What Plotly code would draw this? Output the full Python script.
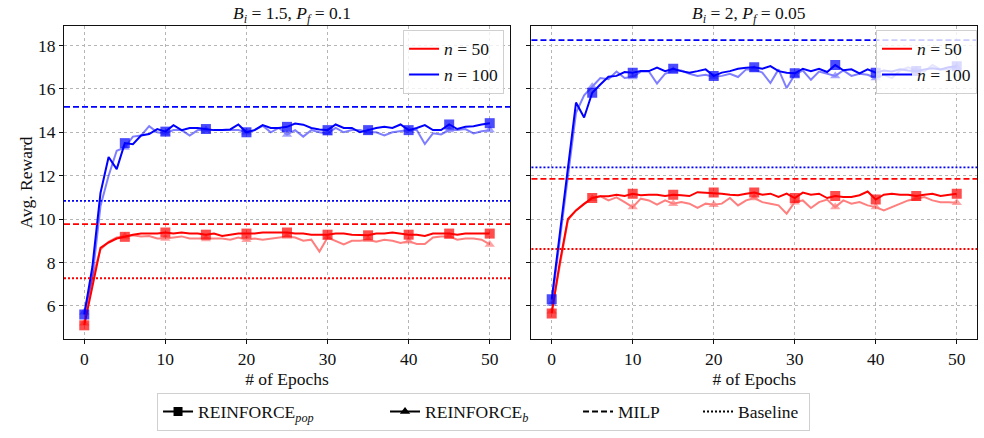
import plotly.graph_objects as go
from plotly.subplots import make_subplots

epochs = list(range(51))

# ---- Left panel: B_i = 1.5, P_f = 0.1 ----
L_pop_50 = [5.1, 6.9, 8.67, 8.92, 9.1, 9.18, 9.28, 9.33, 9.33, 9.33,
            9.38, 9.33, 9.38, 9.33, 9.33, 9.28, 9.33, 9.22, 9.28, 9.33,
            9.33, 9.33, 9.38, 9.38, 9.38, 9.38, 9.33, 9.33, 9.28, 9.28,
            9.28, 9.33, 9.33, 9.28, 9.25, 9.25, 9.33, 9.33, 9.38, 9.33,
            9.28, 9.28, 9.22, 9.33, 9.33, 9.33, 9.28, 9.33, 9.33, 9.33,
            9.33]
L_b_50 = [5.2, 7.3, 8.6, 8.95, 9.15, 9.2, 9.25, 9.2, 9.22, 9.1,
          9.1, 9.15, 9.2, 9.1, 9.1, 9.08, 9.1, 9.1, 9.05, 9.15,
          9.05, 9.1, 9.05, 9.1, 9.15, 9.2, 9.15, 9.0, 9.05, 8.5,
          9.15, 9.0, 8.83, 9.0, 9.0, 9.05, 8.95, 9.05, 9.0, 8.9,
          8.98, 8.85, 8.85, 9.15, 9.2, 9.2, 9.05, 9.1, 9.1, 9.05,
          8.83]
L_pop_100 = [5.6, 7.8, 11.2, 12.86, 12.3, 13.5, 13.45, 13.85, 13.92, 14.15,
             14.03, 14.33, 14.1, 14.2, 14.2, 14.15, 14.1, 14.1, 14.13, 14.36,
             14.0, 14.1, 14.33, 14.2, 14.2, 14.25, 14.4, 14.35, 14.2, 14.13,
             14.1, 14.36, 14.2, 14.2, 14.0, 14.1, 14.2, 14.25, 14.2, 14.36,
             14.1, 14.2, 14.33, 14.1, 14.1, 14.36, 14.15, 14.25, 14.28, 14.36,
             14.42]
L_b_100 = [5.7, 7.3, 10.6, 12.0, 13.15, 13.3, 13.8, 13.85, 14.28, 14.0,
           13.95, 14.1, 14.1, 13.85, 14.1, 14.1, 14.1, 14.1, 14.1, 14.1,
           14.0, 14.1, 14.3, 14.0, 14.2, 13.9, 14.1, 13.8, 14.1, 14.0,
           13.95, 14.2, 14.0, 14.1, 14.1, 14.0, 14.0, 13.85, 14.0, 14.05,
           14.1, 14.1, 13.46, 13.95, 13.9, 14.1, 14.1, 14.15, 13.95, 14.05,
           14.1]

# ---- Right panel: B_i = 2, P_f = 0.05 ----
R_pop_50 = [5.65, 8.0, 10.0, 10.4, 10.7, 10.97, 11.05, 11.05, 11.12, 11.06,
            11.17, 11.1, 11.12, 11.12, 11.06, 11.12, 11.1, 11.06, 11.24, 11.22,
            11.22, 11.17, 11.12, 11.1, 11.17, 11.22, 11.12, 11.17, 11.02, 11.17,
            10.97, 11.22, 11.12, 11.17, 10.97, 11.06, 11.02, 11.02, 11.1, 11.27,
            10.9, 11.12, 11.17, 11.12, 11.12, 11.06, 11.12, 11.17, 11.06, 11.12,
            11.17]
R_b_50 = [5.75, 7.9, 9.95, 10.4, 10.7, 10.94, 11.06, 10.86, 11.0, 10.78,
          10.55, 10.94, 10.86, 10.66, 10.86, 10.71, 10.78, 10.71, 10.51, 10.71,
          10.66, 10.71, 10.97, 10.63, 10.86, 10.97, 10.78, 10.71, 10.63, 10.25,
          10.78, 10.86, 10.51, 10.78, 10.9, 10.55, 10.86, 10.71, 10.78, 10.63,
          10.55, 10.4, 10.55, 10.71, 10.86, 10.94, 11.01, 10.86, 10.78, 10.78,
          10.75]
R_pop_100 = [6.3, 9.3, 12.3, 15.37, 14.68, 15.82, 16.2, 16.56, 16.6, 16.78,
             16.75, 16.82, 16.82, 16.98, 16.82, 16.93, 16.82, 16.75, 16.82, 16.9,
             16.6, 16.75, 16.82, 16.93, 16.98, 17.0, 16.93, 17.05, 16.82, 16.75,
             16.72, 16.93, 16.82, 16.93, 16.78, 17.1, 16.86, 16.9, 16.72, 16.9,
             16.75, 16.85, 16.8, 16.9, 16.85, 16.82, 16.9, 16.95, 16.9, 17.0,
             17.05]
R_b_100 = [6.1, 9.0, 11.8, 14.9, 15.7, 16.1, 16.5, 16.45, 16.8, 16.5,
           16.55, 16.8, 16.8, 16.25, 16.7, 16.85, 16.85, 16.7, 16.6, 16.65,
           16.55, 16.6, 16.7, 16.55, 16.9, 16.9, 16.75, 16.27, 16.9, 16.04,
           16.65, 16.85, 16.42, 16.8, 16.7, 16.6, 16.85, 16.6, 16.7, 16.65,
           16.5, 16.65, 16.5, 16.85, 17.0, 16.85, 16.8, 17.1, 16.9, 16.9,
           17.0]

MILP_L = [9.77, 15.17]     # n=50, n=100
BASE_L = [7.27, 10.84]
MILP_R = [11.85, 18.25]
BASE_R = [8.62, 12.38]

titles = ["<i>B</i><sub><i>i</i></sub> = 1.5, <i>P</i><sub><i>f</i></sub> = 0.1",
          "<i>B</i><sub><i>i</i></sub> = 2, <i>P</i><sub><i>f</i></sub> = 0.05"]

RED = "#ff0000"
BLUE = "#0000ff"
FONT = "Liberation Serif, Times New Roman, Times, serif"
FS = 17.5

fig = make_subplots(rows=1, cols=2, shared_yaxes=True, horizontal_spacing=0.0,
                    subplot_titles=titles)

sq_sizes = [10 if e % 5 == 0 else 0 for e in epochs]
tri_sizes = [9 if e % 5 == 0 else 0 for e in epochs]

panels = [
    (1, L_pop_50, L_b_50, L_pop_100, L_b_100, MILP_L, BASE_L),
    (2, R_pop_50, R_b_50, R_pop_100, R_b_100, MILP_R, BASE_R),
]

for col, p50, b50, p100, b100, milp, base in panels:
    for color, pop, bb in [(RED, p50, b50), (BLUE, p100, b100)]:
        fig.add_trace(go.Scatter(x=epochs, y=bb, mode="lines+markers", opacity=0.5,
                                 line=dict(color=color, width=2),
                                 marker=dict(symbol="triangle-up", size=tri_sizes, color=color,
                                             line=dict(width=0)),
                                 showlegend=False, hoverinfo="skip"), row=1, col=col)
    for color, pop, bb in [(RED, p50, b50), (BLUE, p100, b100)]:
        fig.add_trace(go.Scatter(x=epochs, y=pop, mode="lines+markers",
                                 line=dict(color=color, width=2),
                                 marker=dict(symbol="square", size=sq_sizes, color=color,
                                             line=dict(width=0)),
                                 showlegend=False, hoverinfo="skip"), row=1, col=col)
    for color, m, b in [(RED, milp[0], base[0]), (BLUE, milp[1], base[1])]:
        fig.add_hline(y=m, line=dict(color=color, width=1.8, dash="6px,3px"), row=1, col=col)
        fig.add_hline(y=b, line=dict(color=color, width=1.8, dash="2px,2px"), row=1, col=col)
    # panel legends (n = 50 / n = 100)
    lg = "legend" if col == 1 else "legend2"
    for color, name in [(RED, "<i>n</i> = 50"), (BLUE, "<i>n</i> = 100")]:
        fig.add_trace(go.Scatter(x=[None], y=[None], mode="lines", name=name,
                                 line=dict(color=color, width=2), legend=lg,
                                 showlegend=True), row=1, col=col)

# bottom legend entries
bottom = [
    ("REINFORCE<sub><i>pop</i></sub>", "lines+markers", "solid", "square", 182),
    ("REINFORCE<sub><i>b</i></sub>", "lines+markers", "solid", "triangle-up", 148),
    ("MILP", "lines", "6px,3px", None, 75),
    ("Baseline", "lines", "2px,2px", None, 66),
]
for name, mode, dash, sym, w in bottom:
    mk = dict(symbol=sym, size=9, color="black") if sym else None
    fig.add_trace(go.Scatter(x=[None], y=[None], mode=mode, name=name,
                             line=dict(color="black", width=2, dash=dash),
                             marker=mk, legend="legend3", legendwidth=w,
                             showlegend=True), row=1, col=1)

axis_common = dict(showline=True, linecolor="#111", linewidth=1.2, mirror=True,
                   ticks="outside", ticklen=4, tickcolor="#111",
                   showgrid=True, gridcolor="#b5b5b5", griddash="3px,3px", gridwidth=0.8,
                   zeroline=False, tickfont=dict(family=FONT, size=FS, color="#111"))

fig.update_xaxes(**axis_common, range=[-2.5, 52.5], tickvals=[0, 10, 20, 30, 40, 50],
                 title=dict(text="# of Epochs", font=dict(family=FONT, size=FS, color="#111"),
                            standoff=4))
fig.update_xaxes(domain=[0.0, 0.4885], row=1, col=1)
fig.update_xaxes(domain=[0.512, 1.0], row=1, col=2)
fig.update_yaxes(**axis_common, range=[4.47, 18.9], tickvals=[6, 8, 10, 12, 14, 16, 18])
fig.update_yaxes(title=dict(text="Avg. Reward", font=dict(family=FONT, size=FS, color="#111"),
                            standoff=0), row=1, col=1)
fig.update_yaxes(showticklabels=False, row=1, col=2)

for ann in fig.layout.annotations:
    ann.font = dict(family=FONT, size=FS, color="#111")
    ann.yshift = -2

legend_common = dict(bgcolor="rgba(255,255,255,0.8)", bordercolor="#d0d0d0", borderwidth=1,
                     font=dict(family=FONT, size=FS, color="#111"),
                     xanchor="right", yanchor="top", itemwidth=30, tracegroupgap=0)

fig.update_layout(
    width=984, height=438,
    margin=dict(l=64, r=7, t=26, b=96),
    plot_bgcolor="white", paper_bgcolor="white",
    font=dict(family=FONT, size=FS, color="#111"),
    legend=dict(**legend_common, x=0.482, y=0.988),
    legend2=dict(**legend_common, x=1.0, y=0.988),
    legend3=dict(bgcolor="white", bordercolor="#d0d0d0", borderwidth=1,
                 font=dict(family=FONT, size=FS, color="#111"),
                 orientation="h", xanchor="left", yanchor="middle",
                 x=0.1019, y=-0.232, itemwidth=30),
)

fig.write_html("out.html")
